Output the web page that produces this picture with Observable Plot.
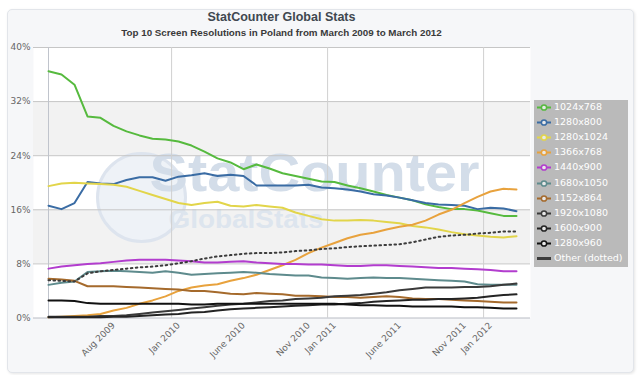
<!DOCTYPE html>
<html><head><meta charset="utf-8">
<script src="https://cdn.jsdelivr.net/npm/d3@7"></script>
<script src="https://cdn.jsdelivr.net/npm/@observablehq/plot@0.6"></script>
<style>
body{margin:0;background:#fff;}
#wrap{position:relative;width:640px;height:375px;overflow:hidden;font-family:"DejaVu Sans",sans-serif;}
#box{position:absolute;left:7px;top:9px;width:625px;height:362px;background:#f6f7f9;border:1px solid #e2e5ea;border-radius:5px;box-shadow:1px 1px 3px rgba(0,0,0,0.10);}
#title{position:absolute;left:33px;width:497px;top:10px;text-align:center;font:bold 12.5px "Liberation Sans",sans-serif;color:#404850;}
#subtitle{position:absolute;left:33px;width:497px;top:27px;text-align:center;font:bold 9.8px "Liberation Sans",sans-serif;color:#3a3a3a;}
#chart{position:absolute;left:0;top:0;}
#legend{position:absolute;left:534px;top:100px;width:94px;height:167px;background:#bababa;}
.item{position:absolute;left:0;height:15px;width:94px;}
.item svg{position:absolute;left:2px;top:2px;}
.item span{position:absolute;left:20px;top:1px;font:9.5px "DejaVu Sans",sans-serif;color:#fff;white-space:nowrap;}
</style></head>
<body>
<div id="wrap">
  <div id="box"></div>
  <div id="chart"></div>
  <div id="title">StatCounter Global Stats</div>
  <div id="subtitle">Top 10 Screen Resolutions in Poland from March 2009 to March 2012</div>
  <div id="legend"></div>
</div>
<script>
const months = ["2009-03","2009-04","2009-05","2009-06","2009-07","2009-08","2009-09","2009-10","2009-11","2009-12",
"2010-01","2010-02","2010-03","2010-04","2010-05","2010-06","2010-07","2010-08","2010-09","2010-10","2010-11","2010-12",
"2011-01","2011-02","2011-03","2011-04","2011-05","2011-06","2011-07","2011-08","2011-09","2011-10","2011-11","2011-12",
"2012-01","2012-02","2012-03"];

const tickMonths = ["2009-08","2010-01","2010-06","2010-11","2011-01","2011-06","2011-11","2012-01"];
const tickLabels = ["Aug 2009","Jan 2010","June 2010","Nov 2010","Jan 2011","June 2011","Nov 2011","Jan 2012"];
const janMonths = ["2010-01","2011-01","2012-01"];
const yTicks = [0, 8, 16, 24, 32, 40];
const bands = [[8, 16], [24, 32]];

const r1024x768 = [36.5,36.0,34.5,29.8,29.6,28.4,27.6,27.0,26.5,26.4,26.1,25.5,24.6,23.6,23.0,22.0,22.7,22.1,21.4,21.0,20.6,20.2,20.1,19.6,19.2,18.7,18.2,17.8,17.4,16.8,16.4,16.1,16.1,15.9,15.5,15.1,15.1];
const r1280x800 = [16.6,16.1,17.0,20.1,19.9,19.8,20.4,20.8,20.8,20.3,20.9,21.1,21.4,21.0,21.2,21.0,19.6,19.6,19.6,19.6,19.7,19.3,19.2,19.0,18.7,18.3,18.1,17.8,17.4,17.0,16.8,16.7,16.6,16.1,16.3,16.2,15.8];
const r1280x1024 = [19.5,19.9,20.0,19.9,19.8,19.7,19.4,18.8,18.2,17.6,17.0,16.7,17.0,17.2,16.6,16.5,16.7,16.5,16.3,15.6,15.1,14.6,14.4,14.4,14.5,14.4,14.2,14.0,13.6,13.4,13.1,12.7,12.4,12.2,12.0,11.9,12.1];
const r1366x768 = [0.1,0.2,0.3,0.4,0.6,1.1,1.5,2.1,2.6,3.2,4.0,4.5,4.8,5.0,5.5,5.9,6.4,7.1,7.8,8.6,9.6,10.4,11.1,11.8,12.3,12.6,13.1,13.5,13.8,14.4,15.3,16.0,17.0,17.9,18.7,19.1,19.0];
const r1440x900 = [7.3,7.6,7.8,8.0,8.1,8.3,8.5,8.6,8.6,8.6,8.5,8.4,8.2,8.2,8.3,8.4,8.2,8.1,8.0,8.0,7.9,7.9,7.8,7.7,7.7,7.8,7.8,7.7,7.6,7.5,7.4,7.4,7.3,7.2,7.1,6.9,6.9];
const r1680x1050 = [4.9,5.2,5.4,6.8,6.9,7.0,6.9,6.8,6.7,6.9,6.7,6.4,6.5,6.6,6.7,6.8,6.7,6.5,6.4,6.3,6.3,6.0,5.9,5.8,5.9,6.0,5.9,5.9,5.8,5.7,5.6,5.5,5.4,5.0,4.9,4.9,4.9];
const r1152x864 = [5.8,5.7,5.5,4.7,4.7,4.7,4.6,4.5,4.4,4.3,4.2,4.0,4.0,3.8,3.6,3.5,3.7,3.6,3.5,3.3,3.3,3.2,3.1,3.1,3.0,3.1,3.2,3.1,2.9,2.8,2.8,2.7,2.6,2.5,2.4,2.3,2.3];
const r1920x1080 = [0.2,0.2,0.2,0.2,0.3,0.3,0.4,0.6,0.8,1.0,1.2,1.4,1.6,1.8,2.0,2.1,2.3,2.5,2.6,2.8,2.9,3.0,3.2,3.3,3.4,3.6,3.8,4.1,4.3,4.5,4.5,4.5,4.6,4.6,4.7,4.9,5.1];
const r1600x900 = [0.1,0.1,0.1,0.1,0.1,0.2,0.2,0.3,0.4,0.5,0.6,0.8,0.9,1.1,1.3,1.4,1.5,1.6,1.7,1.8,1.9,2.0,2.0,2.1,2.2,2.4,2.5,2.6,2.7,2.7,2.8,2.8,2.9,3.0,3.2,3.4,3.5];
const r1280x960 = [2.6,2.6,2.5,2.2,2.1,2.1,2.1,2.1,2.1,2.1,2.1,2.0,2.0,2.1,2.1,2.1,2.1,2.1,2.1,2.1,2.1,2.1,2.1,2.0,1.9,1.9,1.8,1.8,1.7,1.7,1.7,1.7,1.6,1.6,1.5,1.4,1.4];
const other = [5.6,5.5,5.4,6.6,6.9,7.1,7.3,7.5,7.6,7.8,8.1,8.4,8.8,9.1,9.3,9.5,9.6,9.6,9.7,9.9,10.0,10.2,10.3,10.5,10.6,10.7,10.8,10.9,11.2,11.6,12.0,12.2,12.3,12.5,12.6,12.8,12.8];

const names = ["1024x768","1280x800","1280x1024","1366x768","1440x900","1680x1050","1152x864","1920x1080","1600x900","1280x960","Other (dotted)"];
const colors = ["#56ba3e","#3a6ca4","#e2d54a","#e8a23d","#b23dce","#5e8b8d","#a56a2c","#3a3a3a","#242424","#111111","#3c3c3c"];
const series = [r1024x768,r1280x800,r1280x1024,r1366x768,r1440x900,r1680x1050,r1152x864,r1920x1080,r1600x900,r1280x960,other];

const table = names.flatMap((n, k) => series[k].map((v, i) => ({month: months[i], v, name: n})));
const otherName = names[names.length - 1];

const W = 640, H = 375, mL = 33, mR = 110, mT = 47, mB = 57.5;
const step = (W - mL - mR) / (months.length - 1);

const plot = Plot.plot({
  width: W, height: H,
  marginLeft: mL, marginRight: mR, marginTop: mT, marginBottom: mB,
  style: {background: "transparent", overflow: "visible"},
  x: {type: "point", domain: months, padding: 0},
  y: {domain: [0, 40]},
  color: {domain: names, range: colors},
  marks: [
    Plot.frame({fill: "white", stroke: null}),
    Plot.rect(bands, {y1: d => d[0], y2: d => d[1], fill: "#f2f2f2"}),
    Plot.dot([0], {frameAnchor: "top-left", dx: 108, dy: 150, r: 44, fill: "#eef2f7", stroke: "#dde4ee", strokeWidth: 3}),
    Plot.text(["StatCounter"], {frameAnchor: "top-left", dx: 116, dy: 126, fontSize: 54, fontWeight: "bold", fill: "#d3dde9", textAnchor: "start", lineAnchor: "middle", fontFamily: "Liberation Sans", className: "wm1"}),
    Plot.text(["GlobalStats"], {frameAnchor: "top-left", dx: 135, dy: 172, fontSize: 26, fontWeight: "bold", fill: "#dde5ee", textAnchor: "start", lineAnchor: "middle", fontFamily: "Liberation Sans", className: "wm2"}),
    Plot.ruleY(yTicks.slice(1), {stroke: "#c6c6c6", strokeWidth: 1}),
    Plot.ruleX(janMonths, {stroke: "#d0d0d0", strokeWidth: 1, dx: -step / 2}),
    Plot.ruleY([0], {stroke: "#b8bcc4"}),
    Plot.ruleX([months[0]], {stroke: "#c0c4cc"}),
    Plot.line(table.filter(d => d.name !== otherName), {x: "month", y: "v", z: "name", stroke: "name", strokeWidth: 2, curve: "linear"}),
    Plot.line(table.filter(d => d.name === otherName), {x: "month", y: "v", stroke: "name", strokeWidth: 2, strokeDasharray: "1.6,3.4"}),
    Plot.axisY({ticks: yTicks, tickFormat: d => d + "%", tickSize: 0, tickPadding: 3, fontSize: 9, fill: "#666", label: null, fontFamily: "DejaVu Sans"}),
    Plot.axisX({ticks: tickMonths, tickFormat: m => tickLabels[tickMonths.indexOf(m)], tickRotate: -45, tickSize: 0, tickPadding: 6, fontSize: 9, fill: "#666", label: null, fontFamily: "DejaVu Sans"})
  ]
});
document.getElementById("chart").appendChild(plot);
d3.select(plot).selectAll(".wm1 text").attr("textLength", 330).attr("lengthAdjust", "spacingAndGlyphs");
d3.select(plot).selectAll(".wm2 text").attr("textLength", 155).attr("lengthAdjust", "spacingAndGlyphs");

const legend = document.getElementById("legend");
names.forEach((n, k) => {
  const it = document.createElement("div");
  it.className = "item";
  it.style.top = (k * 15.1) + "px";
  const isOther = n === otherName;
  it.innerHTML = `<svg width="16" height="11"><line x1="1" x2="15" y1="5.5" y2="5.5" stroke="${colors[k]}" stroke-width="${isOther ? 3 : 2}"/>` +
    (isOther ? "" : `<circle cx="8" cy="5.5" r="2.6" fill="#e8e8e8" stroke="${colors[k]}" stroke-width="1.5"/>`) +
    `</svg><span>${n}</span>`;
  legend.appendChild(it);
});
</script>
</body></html>
